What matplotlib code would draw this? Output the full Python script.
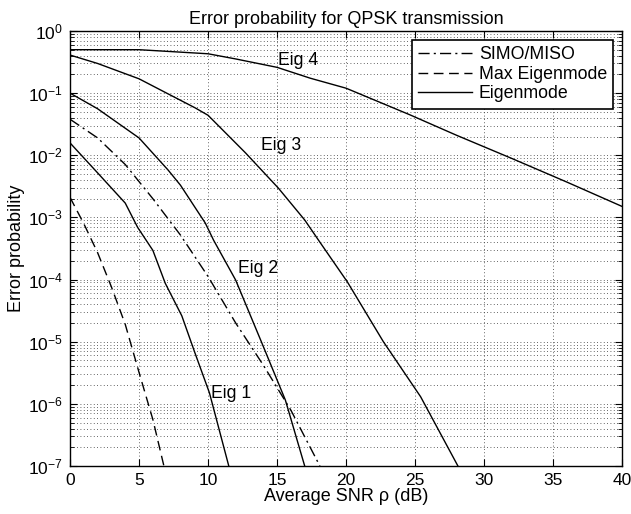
import numpy as np
import matplotlib
matplotlib.use("Agg")
import matplotlib.pyplot as plt
from matplotlib.ticker import LogLocator, NullFormatter, MultipleLocator

plt.rcParams['font.family'] = ['Liberation Sans', 'DejaVu Sans']
plt.rcParams['mathtext.fontset'] = 'custom'
plt.rcParams['mathtext.rm'] = 'Liberation Sans'
plt.rcParams['mathtext.it'] = 'Liberation Sans:italic'

# values
snr_eig4 = [0, 5, 10, 12, 15, 17.4, 20, 24.6, 28, 32, 36, 40]
pe_eig4 = [0.5, 0.5, 0.43, 0.355, 0.26, 0.174, 0.12, 0.045, 0.021, 8.9e-3, 3.7e-3, 1.5e-3]

snr_eig3 = [0, 2, 5, 7, 9.06, 10, 12.7, 15.1, 17, 18.1, 20.1, 22.7, 25.4, 28.1]
pe_eig3 = [0.41, 0.30, 0.17, 0.10, 0.058, 0.044, 0.011, 2.95e-3, 9.1e-4, 4.0e-4,
           9.1e-5, 1.0e-5, 1.3e-6, 1.0e-7]

snr_eig2 = [0, 2, 5, 7.1, 8, 9.8, 10.4, 12, 13.9, 15.6, 17.0]
pe_eig2 = [0.10, 0.056, 0.019, 5.8e-3, 3.3e-3, 8.1e-4, 4.3e-4, 9.8e-5, 9.5e-6, 1.15e-6, 1.0e-7]

snr_eig1 = [0, 2, 4, 4.9, 6, 6.9, 8.1, 9.06, 10.1, 11.5]
pe_eig1 = [0.0158, 5.2e-3, 1.7e-3, 6.9e-4, 2.95e-4, 8.7e-5, 2.6e-5, 6.5e-6, 1.5e-6, 1.0e-7]

snr_simo = [0, 2, 4, 6, 8, 10, 12, 14, 16, 18.1]
pe_simo = [0.038, 0.019, 7.1e-3, 2.0e-3, 5.2e-4, 1.12e-4, 2.0e-5, 4.2e-6, 7.9e-7, 1.0e-7]

snr_maxeig = [0, 1, 2, 3, 4, 5, 6, 6.8]
pe_maxeig = [2.1e-3, 7.9e-4, 2.7e-4, 7.6e-5, 1.9e-5, 3.2e-6, 5.6e-7, 1.0e-7]

labels = ['Eig 1', 'Eig 2', 'Eig 3', 'Eig 4']
label_x = [10.2, 12.2, 13.8, 15.1]
label_y = [1.45e-6, 1.5e-4, 1.45e-2, 0.34]

fig = plt.figure(figsize=(6.31, 5.14), dpi=100)
ax = fig.add_axes([0.111, 0.0934, 0.875, 0.8463])

ax.semilogy(snr_simo, pe_simo, color='k', lw=1.0, ls=(0, (8, 3, 1.5, 3)), label='SIMO/MISO')
ax.semilogy(snr_maxeig, pe_maxeig, color='k', lw=1.0, ls=(0, (7, 4)), label='Max Eigenmode')
ax.semilogy(snr_eig1, pe_eig1, color='k', lw=1.0, label='Eigenmode')
ax.semilogy(snr_eig2, pe_eig2, color='k', lw=1.0)
ax.semilogy(snr_eig3, pe_eig3, color='k', lw=1.0)
ax.semilogy(snr_eig4, pe_eig4, color='k', lw=1.0)

for t, tx, ty in zip(labels, label_x, label_y):
    ax.text(tx, ty, t, fontsize=12.7, va='center', ha='left')

ax.set_xlim(0, 40)
ax.set_ylim(1e-7, 1)
ax.xaxis.set_major_locator(MultipleLocator(5))
ax.yaxis.set_major_locator(LogLocator(base=10, numticks=20))
ax.yaxis.set_minor_locator(LogLocator(base=10, subs=np.arange(2, 10), numticks=20))
ax.yaxis.set_minor_formatter(NullFormatter())
ax.xaxis.get_offset_text().set_visible(False)
ax.yaxis.get_offset_text().set_visible(False)

ax.grid(True, which='major', axis='both', color='0.2', ls=(0, (1, 3)), lw=0.6)
ax.grid(True, which='minor', axis='y', color='0.2', ls=(0, (1, 3)), lw=0.6)

ax.tick_params(which='both', direction='in', top=True, right=True, labelsize=12.5)
ax.tick_params(which='major', length=5, width=0.8, pad=5)
ax.tick_params(which='minor', length=3, width=0.6)
for s in ax.spines.values():
    s.set_linewidth(1.0)

ax.set_title('Error probability for QPSK transmission', fontsize=13, pad=5)
ax.set_xlabel('Average SNR \u03c1 (dB)', fontsize=13, labelpad=0)
ax.set_ylabel('Error probability', fontsize=13, labelpad=2)

leg = ax.legend(loc='upper right', fontsize=12.8, handlelength=3.0, fancybox=False,
                framealpha=1, edgecolor='k', borderaxespad=0.5, labelspacing=0.15,
                borderpad=0.35, handletextpad=0.4)
leg.get_frame().set_linewidth(1.2)

fig.savefig('out.png', dpi=100)
